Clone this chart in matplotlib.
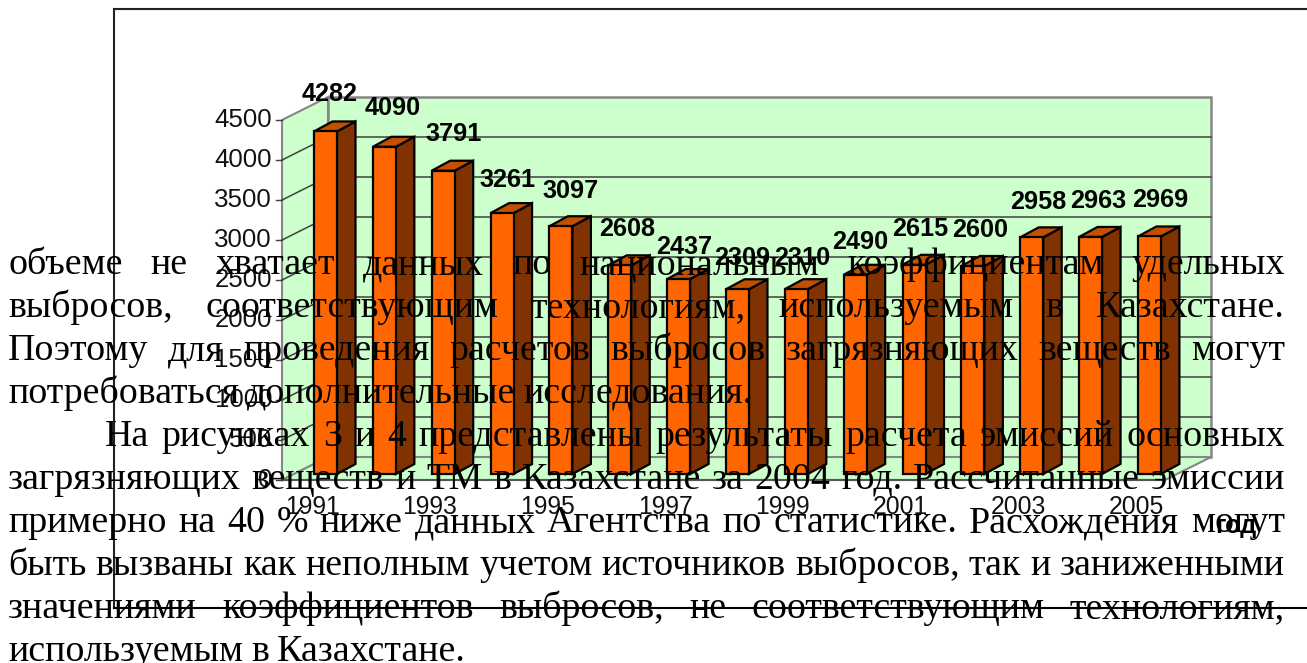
import matplotlib
matplotlib.use("Agg")
import matplotlib.pyplot as plt
from matplotlib.patches import Polygon

years = list(range(1991, 2006))
values = [4282, 4090, 3791, 3261, 3097, 2608, 2437, 2309, 2310, 2490, 2615, 2600, 2958, 2963, 2969]
y_ticks = [0, 500, 1000, 1500, 2000, 2500, 3000, 3500, 4000, 4500]
year_labels = [1991, 1993, 1995, 1997, 1999, 2001, 2003, 2005]

body_lines = [
    "объеме не хватает данных по национальным коэффициентам удельных",
    "выбросов, соответствующим технологиям, используемым в Казахстане.",
    "Поэтому для проведения расчетов выбросов загрязняющих веществ могут",
    "потребоваться дополнительные исследования.",
    "На рисунках 3 и 4 представлены результаты расчета эмиссий основных",
    "загрязняющих веществ и ТМ в Казахстане за 2004 год. Рассчитанные эмиссии",
    "примерно на 40 % ниже данных Агентства по статистике. Расхождения могут",
    "быть вызваны как неполным учетом источников выбросов, так и заниженными",
    "значениями коэффициентов выбросов, не соответствующим технологиям,",
    "используемым в Казахстане.",
]
not_justified = [3, 9]
indented = [4]

W, H = 1307, 663
PX_YEAR = 58.85   # pixels per year
PX_VAL = 0.08     # pixels per unit of value
X0 = 325.5        # pixel of 1991
Y0 = 480          # pixel of value 0, front plane


fig = plt.figure(figsize=(W / 100, H / 100), dpi=100)
ax = fig.add_axes([0, 0, 1, 1])
ax.set_xlim(1991 - X0 / PX_YEAR, 1991 + (W - X0) / PX_YEAR)
ax.set_ylim((Y0 - H) / PX_VAL, Y0 / PX_VAL)
ax.axis("off")


# shift in data units from pixel offsets
def dx(px):
    return px / PX_YEAR


def dy(px):
    return px / PX_VAL


# walls of the 3d box
left = 1991 - dx(43.5)
right = 1991 + dx(839.5)
wall_x, wall_y = dx(46), dy(23)
top = 4500
green = "#CCFFCC"
gray = "#868686"

ax.add_patch(Polygon([(left, 0), (left, top), (left + wall_x, top + wall_y), (left + wall_x, wall_y)],
                     fc=green, ec=gray, lw=1.5, zorder=1))
ax.add_patch(Polygon([(left + wall_x, wall_y), (left + wall_x, top + wall_y), (right + wall_x, top + wall_y),
                      (right + wall_x, wall_y)], fc=green, ec=gray, lw=1.8, zorder=1))
ax.add_patch(Polygon([(left, 0), (left + wall_x, wall_y), (right + wall_x, wall_y), (right, 0)],
                     fc=green, ec=gray, lw=1.5, zorder=1))
ax.plot([left, right], [0, 0], color="#555555", lw=1.5, zorder=2)

# grid lines on both walls, and the ticks
for v in y_ticks[1:-1]:
    ax.plot([left, left + wall_x, right + wall_x], [v, v + wall_y, v + wall_y], color="#404040", lw=1.1, zorder=2)
for v in y_ticks:
    ax.plot([left - dx(6), left], [v, v], color="#404040", lw=1, zorder=2)
    ax.text(left - dx(10), v, str(v), ha="right", va="center", fontsize=18.6, family="Liberation Sans",
            color="#111111", zorder=8)

# bars, drawn as front face + side + top
bar_w = dx(23)
depth_x, depth_y = dx(18.5), dy(10)
base = dy(6)
# small pixel nudges of the value labels (x, y)
label_nudge = [(-4, -1), (0, -3), (2, -1), (-3, 3), (2, 1), (-1, 0), (-2, 4), (-3, 5), (-2, 5), (-3, 3),
               (-2, 0), (-1, 0), (-1, 1), (0, 0), (3, 0)]
for yr, val, nudge in zip(years, values, label_nudge):
    x1, x2 = yr - bar_w / 2, yr + bar_w / 2
    y1, y2 = base, base + val
    ax.add_patch(Polygon([(x2, y1), (x2, y2), (x2 + depth_x, y2 + depth_y), (x2 + depth_x, y1 + depth_y)],
                         fc="#803300", ec="black", lw=1.6, zorder=4))
    ax.add_patch(Polygon([(x1, y2), (x2, y2), (x2 + depth_x, y2 + depth_y), (x1 + depth_x, y2 + depth_y)],
                         fc="#C25000", ec="black", lw=1.6, zorder=4))
    ax.add_patch(Polygon([(x1, y1), (x1, y2), (x2, y2), (x2, y1)], fc="#FF6600", ec="black", lw=1.6, zorder=5))
    ax.annotate(str(val), (yr, y2), xytext=(nudge[0] + 8, 36 - nudge[1]), textcoords="offset pixels",
                ha="center", va="center", fontsize=18.2, fontweight="bold", family="Liberation Sans",
                zorder=8)

for yr in year_labels:
    ax.text(yr - dx(13.5), dy(-27.5), str(yr), ha="center", va="center", fontsize=17.8,
            family="Liberation Sans", color="#111111", zorder=8)
ax.text(1991 + dx(910), dy(-46), "год", ha="center", va="center", fontsize=18.2, fontweight="bold",
        family="Liberation Sans", zorder=8)

# frame of the chart object, cut off at the right
ax.plot([1991 + dx(114 - X0), 1991 + dx(114 - X0)], [dy(Y0 - 9), dy(Y0 - 608)], color="#222222", lw=1.5, zorder=3)
ax.plot([1991 + dx(114 - X0), 1991 + dx(W - X0)], [dy(Y0 - 9), dy(Y0 - 9)], color="#222222", lw=1.5, zorder=3)
ax.plot([1991 + dx(114 - X0), 1991 + dx(W - X0)], [dy(Y0 - 608), dy(Y0 - 608)], color="black", lw=1.5, zorder=3)

# page text over the chart, justified word by word
renderer = fig.canvas.get_renderer()
TEXT_L, TEXT_R = 8, 1285
for i, line in enumerate(body_lines):
    base_y = 274 + i * 43.0
    start = 105 if i in indented else TEXT_L
    words = line.split(" ")
    items = [fig.text(0, 1 - base_y / H, w, fontsize=27.25, family="Liberation Serif", va="baseline", zorder=20)
             for w in words]
    widths = [t.get_window_extent(renderer).width for t in items]
    if i in not_justified:
        gap = 8
    else:
        gap = (TEXT_R - start - sum(widths)) / (len(words) - 1)
    x = start
    for t, w in zip(items, widths):
        t.set_x(x / W)
        x += w + gap

fig.savefig("out.png", dpi=100)
